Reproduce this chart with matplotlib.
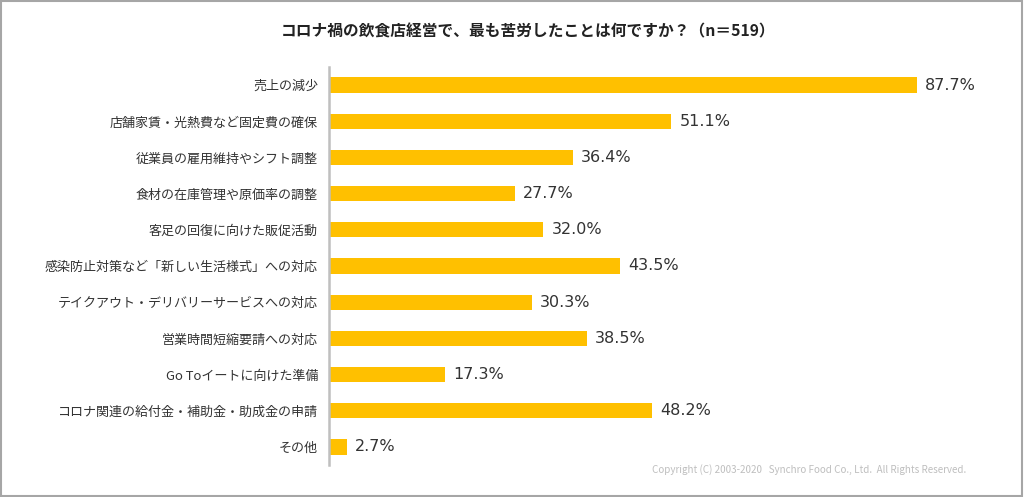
import matplotlib
matplotlib.use("Agg")
import matplotlib.pyplot as plt
from matplotlib.patches import Rectangle

plt.rcParams['font.family'] = ['Noto Sans CJK JP', 'DejaVu Sans']

# data
categories = [
    '売上の減少',
    '店舗家賃・光熱費など固定費の確保',
    '従業員の雇用維持やシフト調整',
    '食材の在庫管理や原価率の調整',
    '客足の回復に向けた販促活動',
    '感染防止対策など「新しい生活様式」への対応',
    'テイクアウト・デリバリーサービスへの対応',
    '営業時間短縮要請への対応',
    'Go Toイートに向けた準備',
    'コロナ関連の給付金・補助金・助成金の申請',
    'その他',
]
values = [87.7, 51.1, 36.4, 27.7, 32.0, 43.5, 30.3, 38.5, 17.3, 48.2, 2.7]

fig = plt.figure(figsize=(10.24, 4.97), dpi=100)
ax = fig.add_axes([0.3213, 0.0644, 0.6543, 0.8008])

y = list(range(len(categories)))
ax.barh(y, values, height=0.42, color='#FFC000')
for yi, v in zip(y, values):
    ax.text(v + 1.2, yi, f'{v:.1f}%', va='center', ha='left',
            fontsize=11.5, color='#333333', family=['DejaVu Sans'])

ax.set_xlim(0, 100)
ax.set_ylim(len(categories) - 0.5, -0.5)
ax.set_yticks(y)
ax.set_yticklabels(categories, fontsize=9.4, color='#333333')
ax.tick_params(axis='y', length=0, pad=8)
ax.set_xticks([])
for s in ['top', 'right', 'bottom']:
    ax.spines[s].set_visible(False)
ax.spines['left'].set_color('#BFBFBF')
ax.spines['left'].set_linewidth(1.8)

#titles
fig.text(0.516, 0.936, 'コロナ禍の飲食店経営で、最も苦労したことは何ですか？（n＝519）',
         ha='center', va='center', fontsize=11.3, fontweight='bold', color='#222222')
fig.text(0.79, 0.056, 'Copyright (C) 2003-2020   Synchro Food Co., Ltd.  All Rights Reserved.',
         ha='center', va='center', fontsize=7.1, color='#BFBFBF')

# outer border
fig.patches.append(Rectangle((0.001, 0.002), 0.997, 0.995, transform=fig.transFigure,
                             fill=False, edgecolor='#A6A6A6', linewidth=1.5))

fig.savefig('out.png', dpi=100)
